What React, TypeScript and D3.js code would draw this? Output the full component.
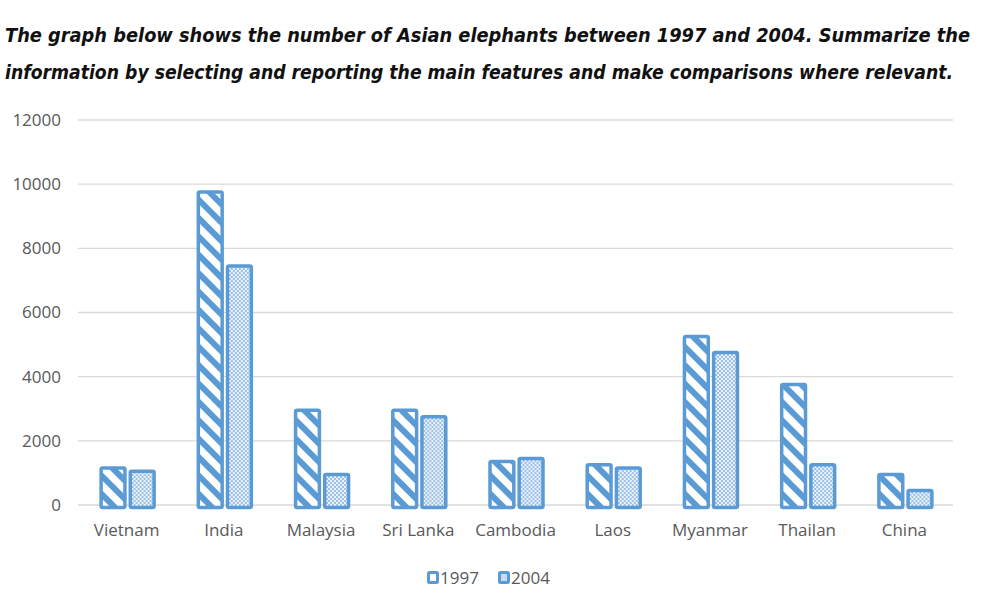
import React, { useEffect, useRef } from "react";
import * as d3 from "d3";

const categories = ["Vietnam", "India", "Malaysia", "Sri Lanka", "Cambodia", "Laos", "Myanmar", "Thailan", "China"];
const series = ["1997", "2004"];
const values1997 = [1200, 9800, 3000, 3000, 1400, 1300, 5300, 3800, 1000];
const values2004 = [1100, 7500, 1000, 2800, 1500, 1200, 4800, 1300, 500];
const yTicks = [0, 2000, 4000, 6000, 8000, 10000, 12000];

const titleLines = [
  "The graph below shows the number of Asian elephants between 1997 and 2004. Summarize the",
  "information by selecting and reporting the main features and make comparisons where relevant.",
];

const W = 984;
const H = 598;
const BLUE = "#5b9bd5";
const LABEL_FONT = "'Open Sans', sans-serif";

export default function App() {
  const ref = useRef<SVGSVGElement>(null);

  useEffect(() => {
    const svg = d3.select(ref.current);
    svg.selectAll("*").remove();

    const defs = svg.append("defs");
    // diagonal stripes for 1997
    const stripes = defs.append("pattern")
      .attr("id", "stripes")
      .attr("patternUnits", "userSpaceOnUse")
      .attr("width", 13)
      .attr("height", 13)
      .attr("patternTransform", "rotate(-45)");
    stripes.append("rect").attr("width", 13).attr("height", 13).attr("fill", "#fff");
    stripes.append("rect").attr("width", 6).attr("height", 13).attr("fill", BLUE);

    // dotted grid for 2004
    const dots = defs.append("pattern")
      .attr("id", "dots")
      .attr("patternUnits", "userSpaceOnUse")
      .attr("width", 4)
      .attr("height", 4);
    dots.append("rect").attr("width", 4).attr("height", 4).attr("fill", "#9cc0e7");
    dots.append("rect").attr("width", 2).attr("height", 2).attr("fill", "#eaf2fb");
    dots.append("rect").attr("x", 2).attr("y", 2).attr("width", 2).attr("height", 2).attr("fill", "#eaf2fb");

    // title
    svg.append("g").selectAll("text")
      .data(titleLines)
      .enter()
      .append("text")
      .attr("x", 5)
      .attr("y", (d, i) => 42 + i * 37)
      .attr("textLength", (d, i) => (i === 0 ? 965 : 948))
      .attr("lengthAdjust", "spacingAndGlyphs")
      .attr("font-family", "'DejaVu Sans Condensed', 'DejaVu Sans'")
      .attr("font-weight", "bold")
      .attr("font-style", "italic")
      .attr("font-size", (d, i) => (i === 0 ? 20 : 19))
      .attr("fill", "#111")
      .text((d) => d);

    const x0 = d3.scaleBand().domain(categories).range([78, 953]);
    const x1 = d3.scaleBand().domain(series).range([0, 56]).paddingInner(0.08);
    const y = d3.scaleLinear().domain([0, 12000]).range([505, 120]);

    // grid
    svg.append("g").selectAll("line")
      .data(yTicks)
      .enter()
      .append("line")
      .attr("x1", 78)
      .attr("x2", 953)
      .attr("y1", (d) => y(d))
      .attr("y2", (d) => y(d))
      .attr("stroke", "#d9d9d9")
      .attr("stroke-width", 1.3);

    const yAxis = d3.axisLeft(y).tickValues(yTicks).tickFormat(d3.format("d")).tickSize(0).tickPadding(0);
    const gy = svg.append("g").attr("transform", "translate(61,0)").call(yAxis);
    gy.select(".domain").remove();
    gy.selectAll("text")
      .attr("font-family", LABEL_FONT)
      .attr("font-size", 17)
      .attr("fill", "#595959");

    const xAxis = d3.axisBottom(x0).tickSize(0).tickPadding(0);
    const gx = svg.append("g").attr("transform", "translate(0,524)").call(xAxis);
    gx.select(".domain").remove();
    gx.selectAll("text")
      .attr("font-family", LABEL_FONT)
      .attr("font-size", 17)
      .attr("fill", "#595959");

    const data = categories.map((c, i) => ({ c, v: [values1997[i], values2004[i]] }));
    const fills = ["url(#stripes)", "url(#dots)"];

    const groups = svg.append("g").selectAll("g")
      .data(data)
      .enter()
      .append("g")
      .attr("transform", (d) => `translate(${x0(d.c)! + x0.bandwidth() / 2 - 27},0)`);

    groups.selectAll("rect")
      .data((d) => d.v.map((v, j) => ({ v, j })))
      .enter()
      .append("rect")
      .attr("x", (d) => x1(series[d.j])! + 1.5)
      .attr("y", (d) => y(d.v) + 1.5)
      .attr("width", x1.bandwidth() - 3)
      .attr("height", (d) => y(0) - y(d.v) + 1)
      .attr("rx", 1.5)
      .attr("fill", (d) => fills[d.j])
      .attr("stroke", BLUE)
      .attr("stroke-width", 3.5);

    // legend
    const legend = svg.append("g").selectAll("g")
      .data(series)
      .enter()
      .append("g")
      .attr("transform", (d, i) => `translate(${427 + i * 71},571)`);
    legend.append("rect")
      .attr("x", 1.5)
      .attr("y", 1.5)
      .attr("width", 9)
      .attr("height", 10)
      .attr("rx", 1)
      .attr("fill", (d, i) => (i === 0 ? "#fff" : "#c6dbf1"))
      .attr("stroke", BLUE)
      .attr("stroke-width", 3);
    legend.append("text")
      .attr("x", 13)
      .attr("y", 13)
      .attr("font-family", LABEL_FONT)
      .attr("font-size", 17)
      .attr("fill", "#595959")
      .text((d) => d);
  }, []);

  return (
    <svg ref={ref} width={W} height={H} style={{ position: "absolute", left: 0, top: 0, background: "#fff" }} />
  );
}
